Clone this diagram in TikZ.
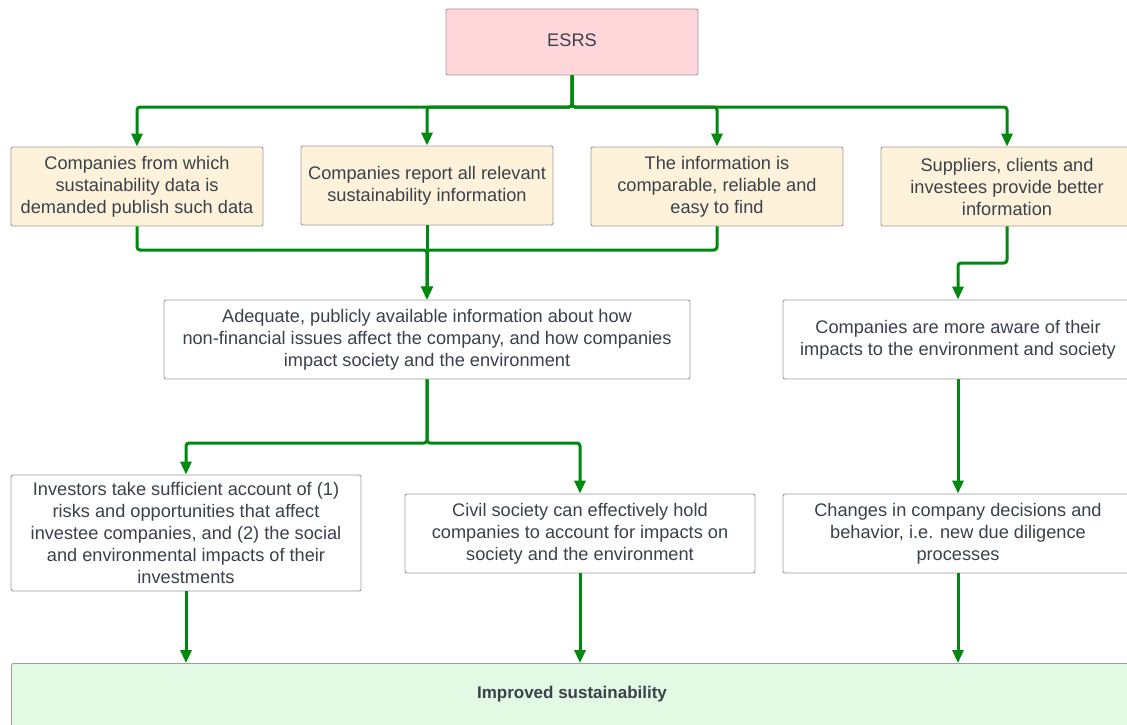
\documentclass[tikz,border=0pt]{standalone}
\usepackage{fontspec}
\setmainfont{Liberation Sans}
\usetikzlibrary{arrows.meta}
\definecolor{txt}{HTML}{3A414A}
\definecolor{edge}{HTML}{9C9C9C}
\definecolor{pinkfill}{HTML}{FFD7DA}
\definecolor{beige}{HTML}{FFF2DA}
\definecolor{mint}{HTML}{E2F9E3}
\definecolor{flow}{HTML}{00890F}
\tikzset{
  box/.style={draw=edge, line width=0.9pt, rounded corners=2pt, inner sep=0pt,
    align=center, text=txt, font=\fontsize{18.2}{22}\selectfont},
  conn/.style={draw=flow, line width=3pt, rounded corners=3pt,
    -{Triangle[length=13pt,width=11pt]}},
}
\begin{document}
\begin{tikzpicture}[x=1pt,y=-1pt]
\useasboundingbox (0,0) rectangle (1127,725);
\clip (0,0) rectangle (1127,725);
\fill[white] (0,0) rectangle (1127,725);

% goal at the top
\node[box, fill=pinkfill, minimum width=252pt, minimum height=66pt] (esrs) at (572,42) {};
\node[text=txt, font=\fontsize{18.2}{22}\selectfont] (esrslabel) at (572,40) {ESRS};

% first tier of outputs
\node[box, fill=beige, minimum width=252pt, minimum height=79pt] (a) at (137,186.5)
  {Companies from which\\sustainability data is\\demanded publish such data};
\node[box, fill=beige, minimum width=252pt, minimum height=79pt] (b) at (427,185.5)
  {Companies report all relevant\\sustainability information};
\node[box, fill=beige, minimum width=252pt, minimum height=79pt] (c) at (717,186.5)
  {The information is\\comparable, reliable and\\easy to find};
\node[box, fill=beige, minimum width=252pt, minimum height=79pt] (d) at (1007,186.5)
  {Suppliers, clients and\\investees provide better\\information};

% intermediate outcomes
\node[box, fill=white, minimum width=526pt, minimum height=79pt] (info) at (427,339.5)
  {Adequate, publicly available information about how\\non-financial issues affect the company, and how companies\\impact society and the environment};
\node[box, fill=white, minimum width=350pt, minimum height=79pt] (aware) at (958,339.5)
  {Companies are more aware of their\\impacts to the environment and society};

\node[box, fill=white, minimum width=350pt, minimum height=116pt] (inv) at (186,533)
  {Investors take sufficient account of (1)\\risks and opportunities that affect\\investee companies, and (2) the social\\and environmental impacts of their\\investments};
\node[box, fill=white, minimum width=350pt, minimum height=79pt] (civil) at (580,533.5)
  {Civil society can effectively hold\\companies to account for impacts on\\society and the environment};
\node[box, fill=white, minimum width=350pt, minimum height=79pt] (change) at (958,533.5)
  {Changes in company decisions and\\behavior, i.e. new due diligence\\processes};

% final impact
\node[box, fill=mint, minimum width=1122pt, minimum height=80pt, anchor=north west] (impact) at (11,663) {};
\node[text=txt, font=\fontsize{17}{21}\selectfont\bfseries] (impactlabel) at (572,694) {Improved sustainability};

% ESRS fans out to the first tier
\foreach \t in {a,b,c,d}
  \draw[conn] (esrs.south) -- (esrs.south |- 0,107) -| (\t.north);

% first three outputs converge on public information
\foreach \s in {a,c}
  \draw[conn] (\s.south) -- (\s.south |- 0,250) -| (info.north);
\draw[conn] (b.south) -- (info.north);

\draw[conn] (d.south) -- (d.south |- 0,263) -| (aware.north);

% public information splits to investors and civil society
\draw[conn] (info.south) -- (info.south |- 0,443) -| (inv.north);
\draw[conn] (info.south) -- (info.south |- 0,443) -| (civil.north);

\draw[conn] (aware.south) -- (change.north);

% everything leads to improved sustainability
\draw[conn] (inv.south) -- (inv.south |- impact.north);
\draw[conn] (civil.south) -- (civil.south |- impact.north);
\draw[conn] (change.south) -- (change.south |- impact.north);
\end{tikzpicture}
\end{document}
